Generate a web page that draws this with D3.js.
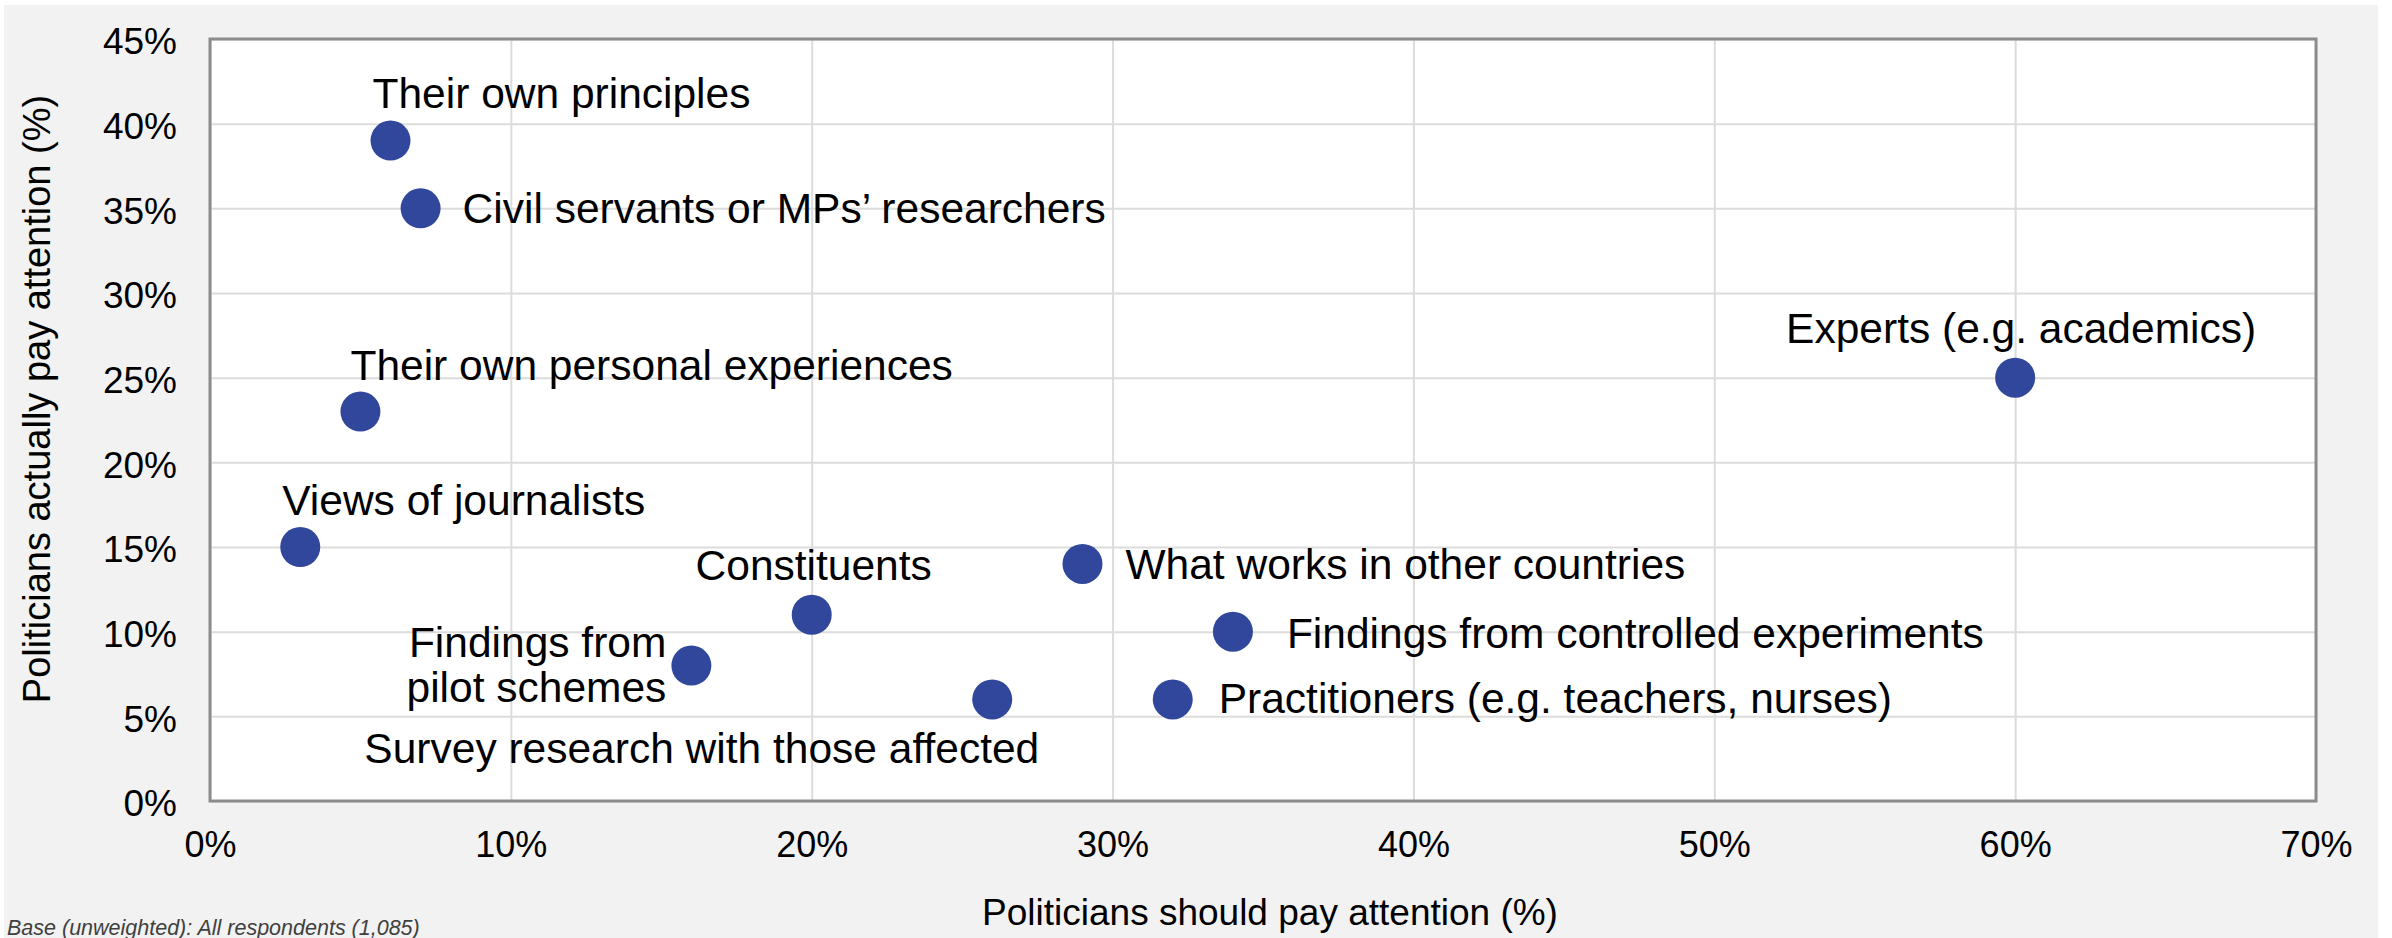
<!DOCTYPE html>
<html>
<head>
<meta charset="utf-8">
<script src="https://cdn.jsdelivr.net/npm/d3@7"></script>
<style>
  html, body { margin: 0; padding: 0; background: #fff; }
  svg { display: block; font-family: "Liberation Sans", Arial, sans-serif; }
</style>
</head>
<body>
<svg width="2392" height="938"></svg>
<script>
// Sources of evidence: should vs actually pay attention (%)
var sources = [
  "Their own principles",
  "Civil servants or MPs\u2019 researchers",
  "Their own personal experiences",
  "Views of journalists",
  "Constituents",
  "Findings from pilot schemes",
  "Survey research with those affected",
  "What works in other countries",
  "Findings from controlled experiments",
  "Practitioners (e.g. teachers, nurses)",
  "Experts (e.g. academics)"
];
var shouldPay = [6, 7, 5, 3, 20, 16, 26, 29, 34, 32, 60];
var actuallyPay = [39, 35, 23, 15, 11, 8, 6, 14, 10, 6, 25];

var xTicks = [0, 10, 20, 30, 40, 50, 60, 70];
var yTicks = [0, 5, 10, 15, 20, 25, 30, 35, 40, 45];

// label placement: anchor + offset from the dot (px)
var labelPos = [
  { anchor: "start", dx: -18, dy: -33 },
  { anchor: "start", dx: 42, dy: 15 },
  { anchor: "start", dx: -10, dy: -32 },
  { anchor: "start", dx: -18, dy: -32 },
  { anchor: "middle", dx: 2, dy: -35 },
  { anchor: "end", dx: -25, dy: -9, lines: ["Findings from", "pilot schemes"] },
  { anchor: "end", dx: 47, dy: 64 },
  { anchor: "start", dx: 43, dy: 15 },
  { anchor: "start", dx: 54, dy: 16 },
  { anchor: "start", dx: 46, dy: 14 },
  { anchor: "middle", dx: 6, dy: -35 }
];

var svg = d3.select("svg"),
    width = +svg.attr("width"),
    height = +svg.attr("height");

// outer grey panel
svg.append("rect")
    .attr("x", 4).attr("y", 5)
    .attr("width", 2374).attr("height", height - 5)
    .attr("fill", "#f2f2f2");

var plotL = 210, plotR = 2316, plotT = 39, plotB = 801;

var x = d3.scaleLinear().domain([0, 70]).range([plotL, plotR]);
var y = d3.scaleLinear().domain([0, 45]).range([plotB, plotT]);

// plot area
svg.append("rect")
    .attr("x", plotL).attr("y", plotT)
    .attr("width", plotR - plotL).attr("height", plotB - plotT)
    .attr("fill", "#fff");

// gridlines
svg.append("g")
    .attr("transform", "translate(0," + plotB + ")")
    .call(d3.axisBottom(x).tickValues(xTicks).tickSize(-(plotB - plotT)).tickFormat(""))
    .call(function(g) { g.select(".domain").remove(); })
    .selectAll("line").attr("stroke", "#dcdcdc").attr("stroke-width", 2);

svg.append("g")
    .attr("transform", "translate(" + plotL + ",0)")
    .call(d3.axisLeft(y).tickValues(yTicks).tickSize(-(plotR - plotL)).tickFormat(""))
    .call(function(g) { g.select(".domain").remove(); })
    .selectAll("line").attr("stroke", "#dcdcdc").attr("stroke-width", 2);

// border
svg.append("rect")
    .attr("x", plotL).attr("y", plotT)
    .attr("width", plotR - plotL).attr("height", plotB - plotT)
    .attr("fill", "none")
    .attr("stroke", "#8c8c8c")
    .attr("stroke-width", 3);

// tick labels
var xAxis = svg.append("g")
    .attr("transform", "translate(0," + plotB + ")")
    .call(d3.axisBottom(x).tickValues(xTicks).tickSize(0).tickPadding(30)
          .tickFormat(function(d) { return d + "%"; }));
xAxis.select(".domain").remove();
xAxis.selectAll("text")
    .attr("font-size", 36)
    .attr("font-family", "Liberation Sans, Arial, sans-serif")
    .attr("fill", "#000");

var yAxis = svg.append("g")
    .attr("transform", "translate(" + plotL + ",0)")
    .call(d3.axisLeft(y).tickValues(yTicks).tickSize(0).tickPadding(33)
          .tickFormat(function(d) { return d + "%"; }));
yAxis.select(".domain").remove();
yAxis.selectAll("text")
    .attr("dy", "0.4em")
    .attr("font-size", 37)
    .attr("font-family", "Liberation Sans, Arial, sans-serif")
    .attr("fill", "#000");

// axis titles
svg.append("text")
    .attr("x", 1270).attr("y", 925)
    .attr("text-anchor", "middle")
    .attr("font-size", 37)
    .text("Politicians should pay attention (%)");

svg.append("text")
    .attr("transform", "translate(50,399) rotate(-90)")
    .attr("text-anchor", "middle")
    .attr("font-size", 38)
    .text("Politicians actually pay attention (%)");

// footnote
svg.append("text")
    .attr("x", 7).attr("y", 935)
    .attr("font-size", 21.5)
    .attr("font-style", "italic")
    .attr("fill", "#404040")
    .text("Base (unweighted): All respondents (1,085)");

// points
var points = sources.map(function(s, i) {
  return { name: s, sx: shouldPay[i], ay: actuallyPay[i], pos: labelPos[i] };
});

svg.append("g")
    .selectAll("circle")
    .data(points)
    .enter().append("circle")
    .attr("cx", function(d) { return x(d.sx); })
    .attr("cy", function(d) { return y(d.ay); })
    .attr("r", 20)
    .attr("fill", "#30479b");

// labels
var labels = svg.append("g")
    .selectAll("text")
    .data(points)
    .enter().append("text")
    .attr("x", function(d) { return x(d.sx) + d.pos.dx; })
    .attr("y", function(d) { return y(d.ay) + d.pos.dy; })
    .attr("text-anchor", function(d) { return d.pos.anchor; })
    .attr("font-size", 42.5)
    .attr("fill", "#000");

labels.each(function(d) {
  var t = d3.select(this);
  if (d.pos.lines) {
    d.pos.lines.forEach(function(line, k) {
      t.append("tspan")
          .attr("x", x(d.sx) + d.pos.dx)
          .attr("dy", k === 0 ? 0 : 45)
          .text(line);
    });
  } else {
    t.text(d.name);
  }
});
</script>
</body>
</html>
